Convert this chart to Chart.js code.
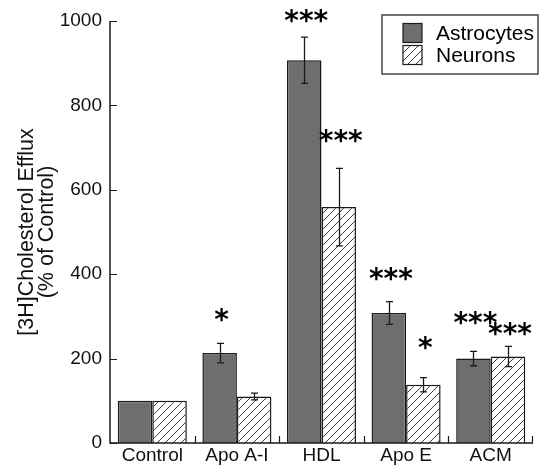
<!DOCTYPE html>
<html>
<head>
<meta charset="utf-8">
<script src="https://cdn.jsdelivr.net/npm/chart.js@4/dist/chart.umd.min.js"></script>
<style>
html,body{margin:0;padding:0;background:#fff;}
#wrap{width:539px;height:474px;}
</style>
</head>
<body>
<div id="wrap"><canvas id="c" width="539" height="474"></canvas></div>
<script>
// ---- data ----
const categories = ['Control', 'Apo A-I', 'HDL', 'Apo E', 'ACM'];
const astrocytes = [100, 213, 907, 308, 200];
const astrocytesErr = [0, 23, 55, 27, 17];
const neurons = [100, 110, 559, 138, 205];
const neuronsErr = [0, 8, 92, 17, 24];
const astrocytesSig = ['', '*', '***', '***', '***'];
const neuronsSig = ['', '', '***', '*', '***'];
const astrocytesSigY = [0, 304, 1011, 401, 297];
const neuronsSigY = [0, 0, 727, 237, 271];
const yTicks = [0, 200, 400, 600, 800, 1000];
const seriesNames = ['Astrocytes', 'Neurons'];
const yTitle = ['[3H]Cholesterol Efflux', '(% of Control)'];

const FONT = '"Liberation Sans", Arial, Helvetica, sans-serif';
const GRAY = '#6e6e6e';
const INK = '#1a1a1a';

function makeHatch() {
  const s = 8;
  const p = document.createElement('canvas');
  p.width = s; p.height = s;
  const g = p.getContext('2d');
  g.fillStyle = '#ffffff';
  g.fillRect(0, 0, s, s);
  g.strokeStyle = '#3a3a3a';
  g.lineWidth = 1;
  g.beginPath();
  g.moveTo(-1, s + 1); g.lineTo(s + 1, -1);
  g.moveTo(-1, 1); g.lineTo(1, -1);
  g.moveTo(s - 1, s + 1); g.lineTo(s + 1, s - 1);
  g.stroke();
  return document.getElementById('c').getContext('2d').createPattern(p, 'repeat');
}
const hatch = makeHatch();

const overlay = {
  id: 'overlay',
  afterDatasetsDraw(chart) {
    const ctx = chart.ctx;
    const xs = chart.scales.x, ys = chart.scales.y;
    const area = chart.chartArea;
    ctx.save();
    // error bars
    const errs = [astrocytesErr, neuronsErr];
    const vals = [astrocytes, neurons];
    ctx.strokeStyle = INK;
    ctx.lineWidth = 1.3;
    for (let d = 0; d < 2; d++) {
      const meta = chart.getDatasetMeta(d);
      meta.data.forEach((bar, i) => {
        const e = errs[d][i];
        if (!e) return;
        const x = Math.round(bar.x) + 0.5;
        const yt = ys.getPixelForValue(vals[d][i] + e);
        const yb = ys.getPixelForValue(vals[d][i] - e);
        ctx.beginPath();
        ctx.moveTo(x, yt); ctx.lineTo(x, yb);
        ctx.moveTo(x - 3.5, yt); ctx.lineTo(x + 3.5, yt);
        ctx.moveTo(x - 3.5, yb); ctx.lineTo(x + 3.5, yb);
        ctx.stroke();
      });
    }
    // significance stars
    const sigs = [astrocytesSig, neuronsSig];
    const sigY = [astrocytesSigY, neuronsSigY];
    ctx.fillStyle = '#000';
    ctx.font = 'bold 28px "DejaVu Sans", sans-serif';
    ctx.textAlign = 'center';
    ctx.textBaseline = 'alphabetic';
    for (let d = 0; d < 2; d++) {
      const meta = chart.getDatasetMeta(d);
      meta.data.forEach((bar, i) => {
        const s = sigs[d][i];
        if (!s) return;
        const m = ctx.measureText(s);
        const yc = ys.getPixelForValue(sigY[d][i]);
        const off = (m.actualBoundingBoxAscent - m.actualBoundingBoxDescent) / 2;
        ctx.fillText(s, bar.x + 2, yc + off);
      });
    }
    // axes
    ctx.strokeStyle = INK;
    ctx.lineWidth = 1.5;
    ctx.beginPath();
    ctx.moveTo(area.left, area.top);
    ctx.lineTo(area.left, area.bottom);
    ctx.lineTo(area.right, area.bottom);
    ctx.stroke();
    ctx.lineWidth = 1.2;
    ctx.beginPath();
    yTicks.forEach(v => {
      const y = Math.round(ys.getPixelForValue(v)) + 0.5;
      ctx.moveTo(area.left, y); ctx.lineTo(area.left + 7, y);
    });
    for (let i = 1; i <= categories.length; i++) {
      const x = Math.round((xs.getPixelForValue(i - 1) + xs.getPixelForValue(Math.min(i, categories.length - 1))) / 2);
      const xx = i === categories.length ? area.right - 1 : x;
      ctx.moveTo(xx + 0.5, area.bottom); ctx.lineTo(xx + 0.5, area.bottom - 7);
    }
    ctx.stroke();
    // legend
    const lx = 382, ly = 15, lw = 156, lh = 59;
    ctx.strokeStyle = '#444';
    ctx.lineWidth = 1.5;
    ctx.strokeRect(lx, ly, lw, lh);
    const fills = [GRAY, hatch];
    const rowsY = [33, 55];
    ctx.font = '21px ' + FONT;
    ctx.textAlign = 'left';
    ctx.textBaseline = 'middle';
    for (let k = 0; k < 2; k++) {
      ctx.fillStyle = fills[k];
      ctx.fillRect(403, rowsY[k] - 9.5, 19, 19);
      ctx.strokeStyle = INK;
      ctx.lineWidth = 1.2;
      ctx.strokeRect(403, rowsY[k] - 9.5, 19, 19);
      ctx.fillStyle = '#000';
      ctx.fillText(seriesNames[k], 436, rowsY[k] + 1);
    }
    ctx.restore();
  }
};

new Chart(document.getElementById('c'), {
  type: 'bar',
  data: {
    labels: categories,
    datasets: [
      { label: seriesNames[0], data: astrocytes, backgroundColor: GRAY, borderColor: INK, borderWidth: 1.5, borderSkipped: 'bottom' },
      { label: seriesNames[1], data: neurons, backgroundColor: hatch, borderColor: INK, borderWidth: 1.5, borderSkipped: 'bottom' }
    ]
  },
  options: {
    responsive: false,
    animation: false,
    devicePixelRatio: 1,
    layout: { padding: { left: 0, right: 6, top: 21, bottom: 0 } },
    datasets: { bar: { barPercentage: 1, categoryPercentage: 0.816 } },
    plugins: { legend: { display: false }, tooltip: { enabled: false } },
    scales: {
      x: {
        grid: { display: false, drawTicks: false },
        border: { display: false },
        ticks: { color: '#111', font: { family: FONT, size: 19 }, padding: 1, maxRotation: 0 },
        afterFit(s) { s.height = 31; }
      },
      y: {
        min: 0, max: 1000,
        grid: { display: false, drawTicks: false },
        border: { display: false },
        ticks: { stepSize: 200, color: '#111', font: { family: FONT, size: 19 }, padding: 8, callback: v => String(v) },
        title: { display: true, text: yTitle, color: '#111', font: { family: FONT, size: 21.5, lineHeight: 0.92 }, padding: { top: 17, bottom: 0 } },
        afterFit(s) { s.width = 110; }
      }
    }
  },
  plugins: [overlay]
});
</script>
</body>
</html>
